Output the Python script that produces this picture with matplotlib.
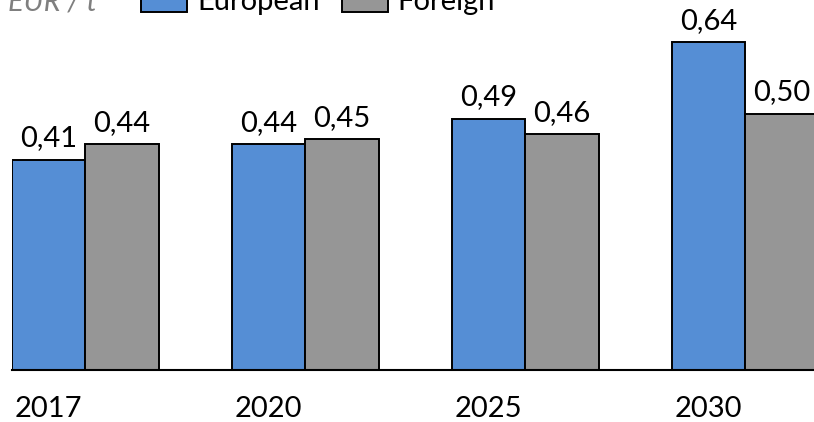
import matplotlib
matplotlib.use("Agg")
import matplotlib.pyplot as plt
from matplotlib.patches import Rectangle
import numpy as np

years = ["2017", "2020", "2025", "2030"]
european = [0.41, 0.44, 0.49, 0.64]
foreign = [0.44, 0.45, 0.46, 0.50]
series_names = ["European", "Foreign"]
unit_label = "EUR / t"

BLUE = "#558ED5"
GREY = "#969696"
FONT = "Lato"
FS = 21

W, H, DPI = 814, 422, 100
fig = plt.figure(figsize=(W / DPI, H / DPI), dpi=DPI)
plt.rcParams["font.family"] = [FONT, "DejaVu Sans"]

# axes placed in pixel terms: left edge on first bar, baseline near the bottom
left_px, base_px, top_px = 12, 369.5, 11.5
ax = fig.add_axes([left_px / W, (H - base_px) / H, 1 - left_px / W, (base_px - top_px) / H])

x = np.arange(len(years))
bw = 1 / 3
lw = 1.4
b1 = ax.bar(x - bw / 2, european, width=bw, color=BLUE, edgecolor="black", linewidth=lw)
b2 = ax.bar(x + bw / 2, foreign, width=bw, color=GREY, edgecolor="black", linewidth=lw)

px_per_unit = 220
ax.set_xlim(-bw, -bw + (W - left_px) / px_per_unit)
ax.set_ylim(0, (base_px - top_px) / 512)

for bars, vals in ((b1, european), (b2, foreign)):
    for r, v in zip(bars, vals):
        ax.annotate(f"{v:.2f}".replace(".", ","),
                    (r.get_x() + r.get_width() / 2, v),
                    xytext=(0, 9.5), textcoords="offset points",
                    ha="center", va="baseline", fontsize=FS, color="black",
                    annotation_clip=False)

for s in ("left", "right", "top"):
    ax.spines[s].set_visible(False)
ax.spines["bottom"].set_linewidth(1.5)
ax.set_yticks([])
ax.set_xticks(x - bw / 2)
ax.set_xticklabels(years, fontsize=FS)
ax.tick_params(axis="x", length=0, pad=19)

# header: unit label and legend, partly running off the top edge
fig.text(8 / W, 1 - 10 / H, unit_label, fontsize=FS, style="italic",
         color="#7F7F7F", va="baseline", ha="left")
for px0, col, txt_px, name in ((141, BLUE, 197, series_names[0]),
                               (342, GREY, 397, series_names[1])):
    fig.patches.append(Rectangle((px0 / W, (H - 12) / H), 46 / W, 22 / H,
                                 transform=fig.transFigure, facecolor=col,
                                 edgecolor="black", linewidth=lw))
    fig.text(txt_px / W, 1 - 10 / H, name, fontsize=FS, va="baseline", ha="left")

fig.savefig("out.png", dpi=DPI)
